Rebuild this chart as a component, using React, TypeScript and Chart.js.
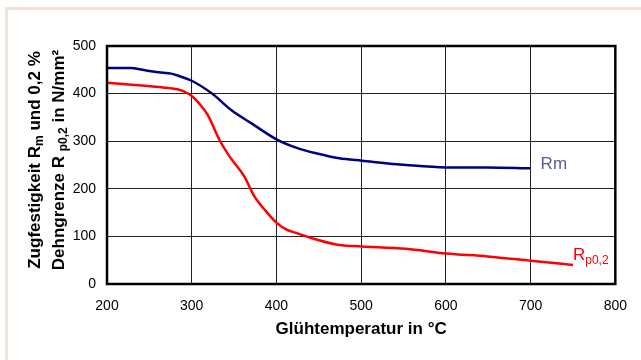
import React, { useEffect, useRef } from 'react';
import { Chart, registerables } from 'chart.js';

Chart.register(...registerables);

// Zugfestigkeit Rm (N/mm²) over annealing temperature (°C)
const temperaturesRm = [200, 228, 242, 261, 276, 285, 300, 324, 347, 371, 400, 424, 448, 474, 501, 553, 600, 649, 700];
const valuesRm = [454, 454, 450, 445, 442, 437, 427, 400, 365, 337, 304, 286, 274, 264, 259, 250, 245, 245, 243];

// Dehngrenze Rp0,2 (N/mm²)
const temperaturesRp = [200, 233, 266, 283, 290, 300, 309, 319, 333, 345, 362, 374, 388, 400, 412, 424, 448, 474, 501, 553, 600, 649, 700, 750];
const valuesRp = [423, 418, 413, 409, 405, 395, 379, 355, 302, 267, 226, 184, 152, 129, 114, 107, 93, 82, 79, 74, 64, 58, 49, 40];

const xTickValues = [200, 300, 400, 500, 600, 700, 800];
const yTickValues = [0, 100, 200, 300, 400, 500];

const xTitle = 'Glühtemperatur in °C';
const yTitleLine1 = [
  { text: 'Zugfestigkeit R', sub: false },
  { text: 'm', sub: true },
  { text: ' und 0,2 %', sub: false },
];
const yTitleLine2 = [
  { text: 'Dehngrenze R ', sub: false },
  { text: 'p0,2', sub: true },
  { text: ' in N/mm²', sub: false },
];
const labelRm = [{ text: 'Rm', sub: false }];
const labelRp = [
  { text: 'R', sub: false },
  { text: 'p0,2', sub: true },
];

const FONT = '"Liberation Sans", Arial, sans-serif';

type Part = { text: string; sub: boolean };

function measureRich(ctx: CanvasRenderingContext2D, parts: Part[], size: number, subSize: number, weight: string) {
  let w = 0;
  for (const p of parts) {
    ctx.font = `${weight} ${p.sub ? subSize : size}px ${FONT}`;
    w += ctx.measureText(p.text).width;
  }
  return w;
}

function drawRich(
  ctx: CanvasRenderingContext2D,
  parts: Part[],
  x: number,
  y: number,
  size: number,
  subSize: number,
  weight: string,
  color: string,
  subShift: number
) {
  let cx = x;
  ctx.fillStyle = color;
  ctx.textBaseline = 'alphabetic';
  ctx.textAlign = 'left';
  for (const p of parts) {
    ctx.font = `${weight} ${p.sub ? subSize : size}px ${FONT}`;
    ctx.fillText(p.text, cx, p.sub ? y + subShift : y);
    cx += ctx.measureText(p.text).width;
  }
}

const annotationsPlugin = {
  id: 'annotations',
  afterDatasetsDraw(chart: any) {
    const { ctx, chartArea } = chart;
    const xs = chart.scales.x;
    const ys = chart.scales.y;
    ctx.save();
    // plot frame
    ctx.strokeStyle = '#000';
    ctx.lineWidth = 2.5;
    ctx.strokeRect(chartArea.left, chartArea.top, chartArea.right - chartArea.left, chartArea.bottom - chartArea.top);

    // series labels anchored at last data points
    const rmX = xs.getPixelForValue(temperaturesRm[temperaturesRm.length - 1]);
    const rmY = ys.getPixelForValue(valuesRm[valuesRm.length - 1]);
    drawRich(ctx, labelRm, rmX + 10, rmY + 1, 17, 12, 'normal', '#5a5aa0', 4);

    const rpX = xs.getPixelForValue(temperaturesRp[temperaturesRp.length - 1]);
    const rpY = ys.getPixelForValue(valuesRp[valuesRp.length - 1]);
    drawRich(ctx, labelRp, rpX, rpY - 5, 17, 12, 'normal', '#ff0000', 4);

    // y axis title (two rotated lines)
    const centerY = (chartArea.top + chartArea.bottom) / 2 - 5;
    ctx.rotate(-Math.PI / 2);
    const w1 = measureRich(ctx, yTitleLine1, 17, 12, 'bold');
    drawRich(ctx, yTitleLine1, -centerY - w1 / 2, 40, 17, 12, 'bold', '#000', 3);
    const w2 = measureRich(ctx, yTitleLine2, 17, 12, 'bold');
    drawRich(ctx, yTitleLine2, -centerY - w2 / 2, 64, 17, 12, 'bold', '#000', 3);
    ctx.restore();
  },
};

export default function App() {
  const canvasRef = useRef<HTMLCanvasElement | null>(null);

  useEffect(() => {
    if (!canvasRef.current) return;
    const chart = new Chart(canvasRef.current, {
      type: 'line',
      data: {
        datasets: [
          {
            label: 'Rm',
            data: temperaturesRm.map((t, i) => ({ x: t, y: valuesRm[i] })),
            borderColor: '#000080',
            borderWidth: 2.5,
            pointRadius: 0,
            cubicInterpolationMode: 'monotone',
            fill: false,
          },
          {
            label: 'Rp0,2',
            data: temperaturesRp.map((t, i) => ({ x: t, y: valuesRp[i] })),
            borderColor: '#ff0000',
            borderWidth: 2.5,
            pointRadius: 0,
            cubicInterpolationMode: 'monotone',
            fill: false,
          },
        ],
      },
      options: {
        animation: false,
        responsive: false,
        devicePixelRatio: 1,
        layout: { padding: { top: 46, right: 19, left: 0, bottom: 20 } },
        plugins: {
          legend: { display: false },
          tooltip: { enabled: false },
        },
        scales: {
          x: {
            type: 'linear',
            min: 200,
            max: 800,
            afterFit: (scale: any) => {
              scale.height = 56;
            },
            afterBuildTicks: (scale: any) => {
              scale.ticks = xTickValues.map((v) => ({ value: v }));
            },
            grid: { color: '#222', lineWidth: 1, drawTicks: false },
            border: { display: false },
            ticks: {
              color: '#000',
              font: { family: FONT, size: 14 },
              padding: 14,
              maxRotation: 0,
            },
            title: {
              display: true,
              text: xTitle,
              color: '#000',
              font: { family: FONT, size: 17, weight: 'bold' },
              padding: { top: 6, bottom: 0 },
            },
          },
          y: {
            type: 'linear',
            min: 0,
            max: 500,
            afterFit: (scale: any) => {
              scale.width = 107;
            },
            afterBuildTicks: (scale: any) => {
              scale.ticks = yTickValues.map((v) => ({ value: v }));
            },
            grid: { color: '#222', lineWidth: 1, drawTicks: false },
            border: { display: false },
            ticks: {
              color: '#000',
              font: { family: FONT, size: 14 },
              padding: 11,
            },
          },
        },
      },
      plugins: [annotationsPlugin],
    } as any);
    return () => chart.destroy();
  }, []);

  return (
    <div
      style={{
        position: 'absolute',
        left: 0,
        top: 0,
        width: 641,
        height: 360,
        overflow: 'hidden',
        background: '#fff',
      }}
    >
      <div
        style={{
          position: 'absolute',
          left: 5,
          top: 7,
          width: 700,
          height: 400,
          boxSizing: 'border-box',
          borderLeft: '3px solid #efe4da',
          borderTop: '3px solid #efe4da',
        }}
      />
      <canvas
        ref={canvasRef}
        width={641}
        height={360}
        style={{ position: 'absolute', left: 0, top: 0, width: 641, height: 360 }}
      />
    </div>
  );
}
